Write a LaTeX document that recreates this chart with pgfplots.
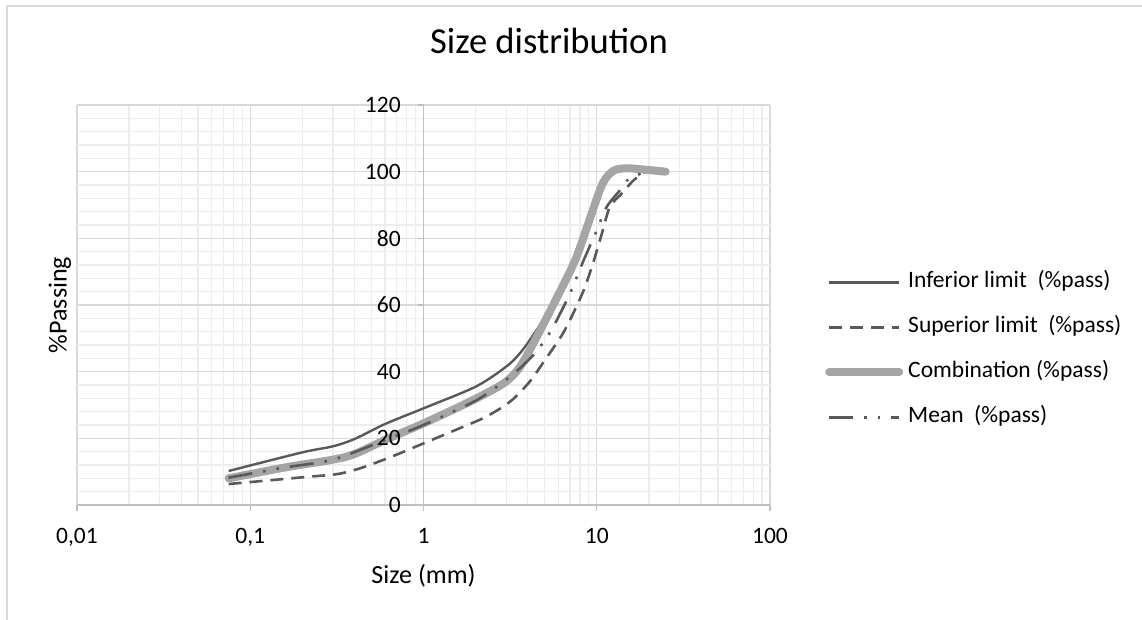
\documentclass[border=0pt]{standalone}
\usepackage{pgfplots}
\pgfplotsset{compat=1.18}
\usepackage{fontspec}
\setmainfont{Carlito}
\definecolor{dark}{HTML}{595959}
\definecolor{light}{HTML}{A5A5A5}
\definecolor{axgray}{HTML}{BFBFBF}
\definecolor{majgray}{HTML}{D9D9D9}
\definecolor{mingray}{HTML}{EDEDED}
\begin{document}
\begin{tikzpicture}
\path[use as bounding box] (0pt,0pt) rectangle (1142pt,-619pt);
\draw[majgray, line width=1.3pt] (7pt,-630pt) -- (7pt,-6pt) -- (1150pt,-6pt);
\node[anchor=base, font=\fontsize{36.6}{44}\selectfont] at (549pt,-53.3pt) {Size distribution};
\begin{axis}[
  at={(77pt,-505pt)}, anchor=south west,
  scale only axis, width=693pt, height=400pt,
  clip=false,
  xmode=log, log basis x=10,
  xmin=0.01, xmax=100, ymin=0, ymax=120,
  axis x line=bottom, axis y line=middle,
  hide obscured y ticks=false, hide obscured x ticks=false,
  axis line style={axgray, line width=1.3pt, -},
  xtick={0.01,0.1,1,10,100},
  xticklabels={{0,01},{0,1},1,10,100},
  minor xtick={0.02,0.03,0.04,0.05,0.06,0.07,0.08,0.09,
    0.2,0.3,0.4,0.5,0.6,0.7,0.8,0.9,2,3,4,5,6,7,8,9,
    20,30,40,50,60,70,80,90},
  ytick={0,20,40,60,80,100,120},
  yticklabels={,,,,,,},
  minor y tick num=4,
  grid=both,
  major grid style={majgray, line width=1.3pt},
  minor grid style={mingray, line width=1.3pt},
  tick style={axgray, line width=1.3pt},
  minor tick length=0pt,
  major tick length=6pt,
  tick align=outside,
  ticklabel style={font=\fontsize{23.5}{28}\selectfont, text=black},
  xticklabel style={yshift=-14pt},
  every axis x label/.style={at={(rel axis cs:0.5,0)}, anchor=base, yshift=-78.3pt},
  every axis y label/.style={at={(rel axis cs:-0.0245,0.5)}, anchor=center, rotate=90},
  label style={font=\fontsize{26.1}{31}\selectfont},
  xlabel={Size (mm)}, ylabel={\%Passing},
  legend image code/.code={\draw[#1] (0pt,0pt) -- (70pt,0pt);},
  legend style={at={(1.0794,0.388)}, anchor=west, draw=none, fill=none,
    inner sep=0pt, font=\fontsize{23.5}{28}\selectfont,
    row sep=22pt,
    nodes={inner sep=0pt, text height=17pt, text depth=6pt},
    /tikz/every odd column/.append style={column sep=5pt}},
  legend cell align=left,
]
\addplot[dark, line width=2.4pt, smooth] coordinates {
(0.075,10.2) (0.2,15.8) (0.3,17.6) (0.4,19.8) (0.6,24.3) (1,29) (2,35.5) (3,41.5)
(3.6,45.5) (4.3,51) (5.6,60.3) (7.5,73.5) (9.2,86.5) (10.8,96.4) (12.5,100.3)
(15,101) (19,100.6) (25,100)};
\addlegendentry{Inferior limit\ \ (\%pass)}
\addplot[dark, line width=2.6pt, dash pattern=on 13pt off 8pt, smooth] coordinates {
(0.075,6.3) (0.22,8.5) (0.32,9.3) (0.43,11) (0.64,14.3) (0.95,18) (1.7,23.5)
(2.3,26.5) (3.16,31) (4.1,37) (5.1,44) (6.3,51) (7.3,57.4) (8.4,64.4) (9.5,72.4)
(10.7,81.4) (11.9,89.4) (13.9,93.4) (16.3,97.4) (19,100)};
\addlegendentry{Superior limit\ \ (\%pass)}
\addplot[light, line width=8pt, line cap=round, smooth] coordinates {
(0.075,8) (0.16,11.3) (0.3,13.6) (0.4,15.3) (0.6,19.5) (1,24.5) (1.85,31)
(2.9,36.5) (3.6,41.4) (4.5,50.4) (5.6,60) (7.5,73.4) (9.2,86.4) (10.8,96.4)
(12.5,100.3) (15,101) (19,100.6) (25,100)};
\addlegendentry{Combination (\%pass)}
\addplot[dark, line width=2.6pt, dash pattern=on 24pt off 11pt on 2.6pt off 11pt on 2.6pt off 11pt, smooth] coordinates {
(0.075,8.2) (0.16,11.3) (0.3,13.6) (0.6,19.5) (1,24) (2,31.3) (2.9,37) (3.6,41)
(4.4,45.5) (5.0,49.4) (5.6,53.4) (7.0,63.4) (8.4,73.4) (10,82.4) (11.4,89.4)
(13.6,94.4) (15,97.4) (19,100)};
\addlegendentry{Mean\ \ (\%pass)}
\pgfplotsinvokeforeach{0,20,40,60,80,100,120}{
  \node[anchor=east, inner sep=0pt, font=\fontsize{23.5}{28}\selectfont, xshift=-22.6pt] at (axis cs:1,#1) {#1};
}
\end{axis}
\end{tikzpicture}
\end{document}
